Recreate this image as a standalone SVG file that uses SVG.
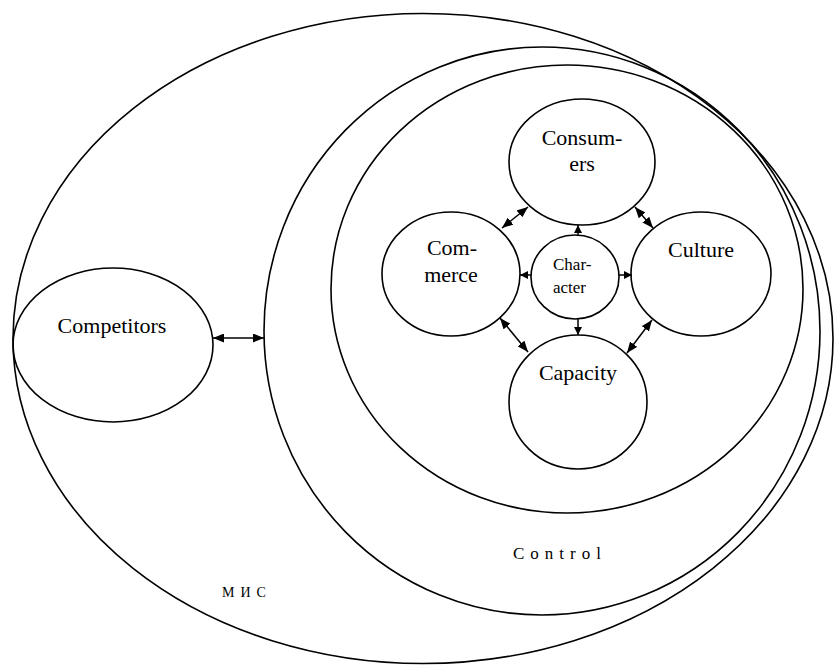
<svg xmlns="http://www.w3.org/2000/svg" width="835" height="665" viewBox="0 0 835 665">
<style>
.e{fill:none;stroke:#000;stroke-width:1.6}
.t{font-family:"Liberation Serif","Times New Roman",serif;font-size:22px;fill:#000;text-anchor:middle}
.s{font-size:17px}
.c{stroke:#000;stroke-width:1.5;fill:none}
</style>
<defs>
<marker id="ah" markerUnits="userSpaceOnUse" markerWidth="11" markerHeight="9" refX="11" refY="4.5" orient="auto-start-reverse">
<path d="M0,0 L11,4.5 L0,9 z" fill="#000"/>
</marker>
<marker id="sh" markerUnits="userSpaceOnUse" markerWidth="8" markerHeight="8" refX="8" refY="4" orient="auto">
<path d="M0,0 L8,4 L0,8 z" fill="#000"/>
</marker>
</defs>
<g id="mis">
<ellipse class="e" cx="423" cy="338.5" rx="410" ry="325"/>
<text class="t" x="222" y="597" style="font-size:14px;letter-spacing:6px;text-anchor:start">МИС</text>
</g>
<g id="control">
<ellipse class="e" cx="542" cy="331" rx="278" ry="284"/>
<text class="t" x="513" y="559" style="font-size:17px;letter-spacing:6px;text-anchor:start">Control</text>
</g>
<g id="inner">
<ellipse class="e" cx="567" cy="289" rx="236" ry="224"/>
</g>
<g id="competitors">
<ellipse class="e" cx="113" cy="345" rx="100" ry="77"/>
<text class="t" x="112" y="333">Competitors</text>
</g>
<g id="consumers">
<ellipse class="e" cx="582" cy="162" rx="73" ry="63"/>
<text class="t" x="582" y="145">Consum-</text>
<text class="t" x="582" y="171">ers</text>
</g>
<g id="commerce">
<ellipse class="e" cx="451" cy="274" rx="69" ry="62"/>
<text class="t" x="452" y="255">Com-</text>
<text class="t" x="451" y="282">merce</text>
</g>
<g id="character">
<ellipse class="e" cx="575" cy="277" rx="44" ry="42"/>
<text class="t s" x="553" y="270" style="text-anchor:start">Char-</text>
<text class="t s" x="553" y="293" style="text-anchor:start">acter</text>
</g>
<g id="culture">
<ellipse class="e" cx="701" cy="274" rx="70" ry="62"/>
<text class="t" x="701" y="257">Culture</text>
</g>
<g id="capacity">
<ellipse class="e" cx="578" cy="402" rx="69" ry="67"/>
<text class="t" x="578" y="380">Capacity</text>
</g>
<g id="connectors">
<line class="c" x1="213" y1="338" x2="264" y2="338" marker-start="url(#ah)" marker-end="url(#ah)"/>
<line class="c" x1="502" y1="228" x2="528" y2="207" marker-start="url(#ah)" marker-end="url(#ah)"/>
<line class="c" x1="635" y1="207" x2="653" y2="228" marker-start="url(#ah)" marker-end="url(#ah)"/>
<line class="c" x1="500" y1="318" x2="528" y2="352" marker-start="url(#ah)" marker-end="url(#ah)"/>
<line class="c" x1="652" y1="320" x2="627" y2="353" marker-start="url(#ah)" marker-end="url(#ah)"/>
<line class="c" x1="578" y1="235" x2="578" y2="225" marker-end="url(#sh)"/>
<line class="c" x1="531" y1="275" x2="520" y2="275" marker-end="url(#sh)"/>
<line class="c" x1="619" y1="275" x2="632" y2="275" marker-end="url(#sh)"/>
<line class="c" x1="578" y1="319" x2="578" y2="335" marker-end="url(#sh)"/>
</g>
</svg>
